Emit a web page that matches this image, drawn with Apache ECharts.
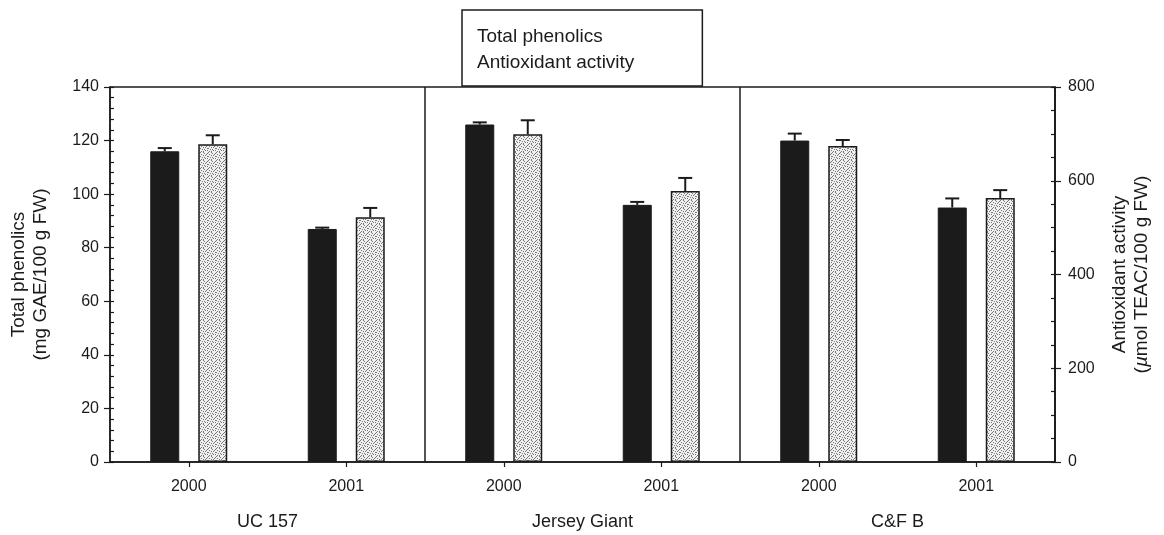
<!DOCTYPE html>
<html>
<head>
<meta charset="utf-8">
<title>Total phenolics and antioxidant activity</title>
<script src="https://cdn.jsdelivr.net/npm/echarts@6/dist/echarts.min.js"></script>
<style>
  html, body { margin: 0; padding: 0; background: #ffffff; }
  #chart { width: 1164px; height: 535px; }
</style>
</head>
<body>
<div id="chart"></div>
<script>
// Harvest years within each cultivar, and the cultivars themselves
const years = ['2000', '2001', '2000', '2001', '2000', '2001'];
const cultivars = ['UC 157', 'Jersey Giant', 'C&F B'];

// Total phenolics, mg GAE/100 g FW (mean and SD)
const phenolics = [116, 87, 126, 96, 120, 95];
const phenolicsErr = [1.2, 0.5, 0.8, 1.1, 2.6, 3.4];

// Antioxidant activity, µmol TEAC/100 g FW (mean and SD)
const antioxidant = [678, 522, 699, 578, 674, 563];
const antioxidantErr = [19, 20, 30, 28, 13, 17];

// Axis ranges
const phenolicsAxis = { min: 0, max: 140, interval: 20 };
const antioxidantAxis = { min: 0, max: 800, interval: 200 };

const FONT = "'Liberation Sans', Arial, Helvetica, sans-serif";
const INK = '#1b1b1b';
const BAR_W = 29;
const BAR_GAP = 19;
const HALF_STEP = (BAR_W + BAR_GAP) / 2;

// Stippled fill for the antioxidant bars
function stipple() {
  const rows = [
    'x..x....',
    '....x..x',
    '.x....x.',
    '...x.x..',
    'x......x',
    '..x.x...',
    '.....x.x',
    '.x.x....'
  ];
  const c = document.createElement('canvas');
  c.width = 8; c.height = 8;
  const g = c.getContext('2d');
  g.fillStyle = '#f0f0f0';
  g.fillRect(0, 0, 8, 8);
  g.fillStyle = '#777777';
  rows.forEach((r, y) => {
    for (let x = 0; x < r.length; x++) if (r[x] === 'x') g.fillRect(x, y, 1, 1);
  });
  return c;
}

// Upward error bar with a cap, shifted onto its bar within the category
function errorBar(side) {
  return function (params, api) {
    const i = api.value(0);
    const v = api.value(1);
    const e = api.value(2);
    const p0 = api.coord([i, v]);
    const p1 = api.coord([i, v + e]);
    const x = p0[0] + side * HALF_STEP;
    const style = { stroke: INK, lineWidth: 2 };
    return {
      type: 'group',
      children: [
        { type: 'line', shape: { x1: x, y1: p0[1], x2: x, y2: p1[1] }, style },
        { type: 'line', shape: { x1: x - 7, y1: p1[1], x2: x + 7, y2: p1[1] }, style }
      ]
    };
  };
}

const tickLabel = { color: INK, fontSize: 16, fontFamily: FONT };

function yAxisPair(side, range, minorSplit, name, nameGap, nameStyle, labelMargin) {
  return [
    {
      type: 'value', position: side, ...range,
      name, nameLocation: 'middle', nameRotate: 90, nameGap,
      nameTextStyle: nameStyle,
      axisLine: { show: true, lineStyle: { color: INK, width: 1.5 } },
      axisTick: { show: true, inside: true, length: 4, lineStyle: { color: INK, width: 1.2 } },
      minorTick: { show: true, splitNumber: minorSplit, length: 4, lineStyle: { color: INK, width: 1.2 } },
      axisLabel: { ...tickLabel, margin: labelMargin },
      splitLine: { show: false }
    },
    {
      type: 'value', position: side, ...range,
      axisLine: { show: false },
      axisTick: { show: true, inside: false, length: 6, lineStyle: { color: INK, width: 1.2 } },
      axisLabel: { show: false },
      splitLine: { show: false }
    }
  ];
}

const chart = echarts.init(document.getElementById('chart'), null, { renderer: 'canvas' });

const leftAxes = yAxisPair('left', phenolicsAxis, 5,
  'Total phenolics\n(mg GAE/100 g FW)', 58,
  { color: INK, fontSize: 19, fontFamily: FONT, lineHeight: 22 }, 11);
const rightAxes = yAxisPair('right', antioxidantAxis, 4,
  'Antioxidant activity\n({mu|µ}mol TEAC/100 g FW)', 54,
  { color: INK, fontSize: 19, fontFamily: FONT, lineHeight: 22,
    rich: { mu: { fontSize: 19, fontFamily: FONT, fontStyle: 'italic', color: INK } } }, 13);

chart.setOption({
  backgroundColor: '#ffffff',
  animation: false,
  textStyle: { fontFamily: FONT },
  legend: {
    data: ['Total phenolics', 'Antioxidant activity'],
    orient: 'vertical',
    left: 462, top: 10,
    icon: 'none',
    itemWidth: 0, itemHeight: 20, itemGap: 6,
    padding: [17, 68, 14, 10],
    borderColor: INK, borderWidth: 1.5,
    backgroundColor: '#ffffff',
    selectedMode: false,
    textStyle: { color: INK, fontSize: 19, fontFamily: FONT }
  },
  grid: {
    left: 108, right: 109, top: 87, bottom: 73,
    show: true, borderColor: INK, borderWidth: 1.5, backgroundColor: 'transparent'
  },
  xAxis: [
    {
      type: 'category', data: years, position: 'bottom',
      axisLine: { show: true, lineStyle: { color: INK, width: 1.5 } },
      axisTick: { show: true, alignWithLabel: true, length: 5, lineStyle: { color: INK, width: 1.2 } },
      axisLabel: { ...tickLabel, margin: 17 },
      // cultivar dividers
      splitLine: {
        show: true,
        interval: (idx) => idx === 2 || idx === 4,
        lineStyle: { color: INK, width: 1.5 }
      }
    },
    {
      type: 'category', data: cultivars, position: 'bottom',
      axisLine: { show: false }, axisTick: { show: false },
      axisLabel: { color: INK, fontSize: 18, fontFamily: FONT, margin: 51 },
      splitLine: { show: false }
    }
  ],
  yAxis: [...leftAxes, ...rightAxes],
  series: [
    {
      name: 'Total phenolics', type: 'bar', xAxisIndex: 0, yAxisIndex: 0,
      data: phenolics, barWidth: BAR_W, barGap: (BAR_GAP / BAR_W * 100) + '%',
      itemStyle: { color: INK, borderColor: INK, borderWidth: 1 }
    },
    {
      name: 'Antioxidant activity', type: 'bar', xAxisIndex: 0, yAxisIndex: 2,
      data: antioxidant, barWidth: BAR_W,
      itemStyle: { color: { image: stipple(), repeat: 'repeat' }, borderColor: INK, borderWidth: 1.5 }
    },
    {
      type: 'custom', xAxisIndex: 0, yAxisIndex: 0, z: 5,
      renderItem: errorBar(-1),
      data: phenolics.map((v, i) => [i, v, phenolicsErr[i]])
    },
    {
      type: 'custom', xAxisIndex: 0, yAxisIndex: 2, z: 5,
      renderItem: errorBar(1),
      data: antioxidant.map((v, i) => [i, v, antioxidantErr[i]])
    }
  ]
});
</script>
</body>
</html>
